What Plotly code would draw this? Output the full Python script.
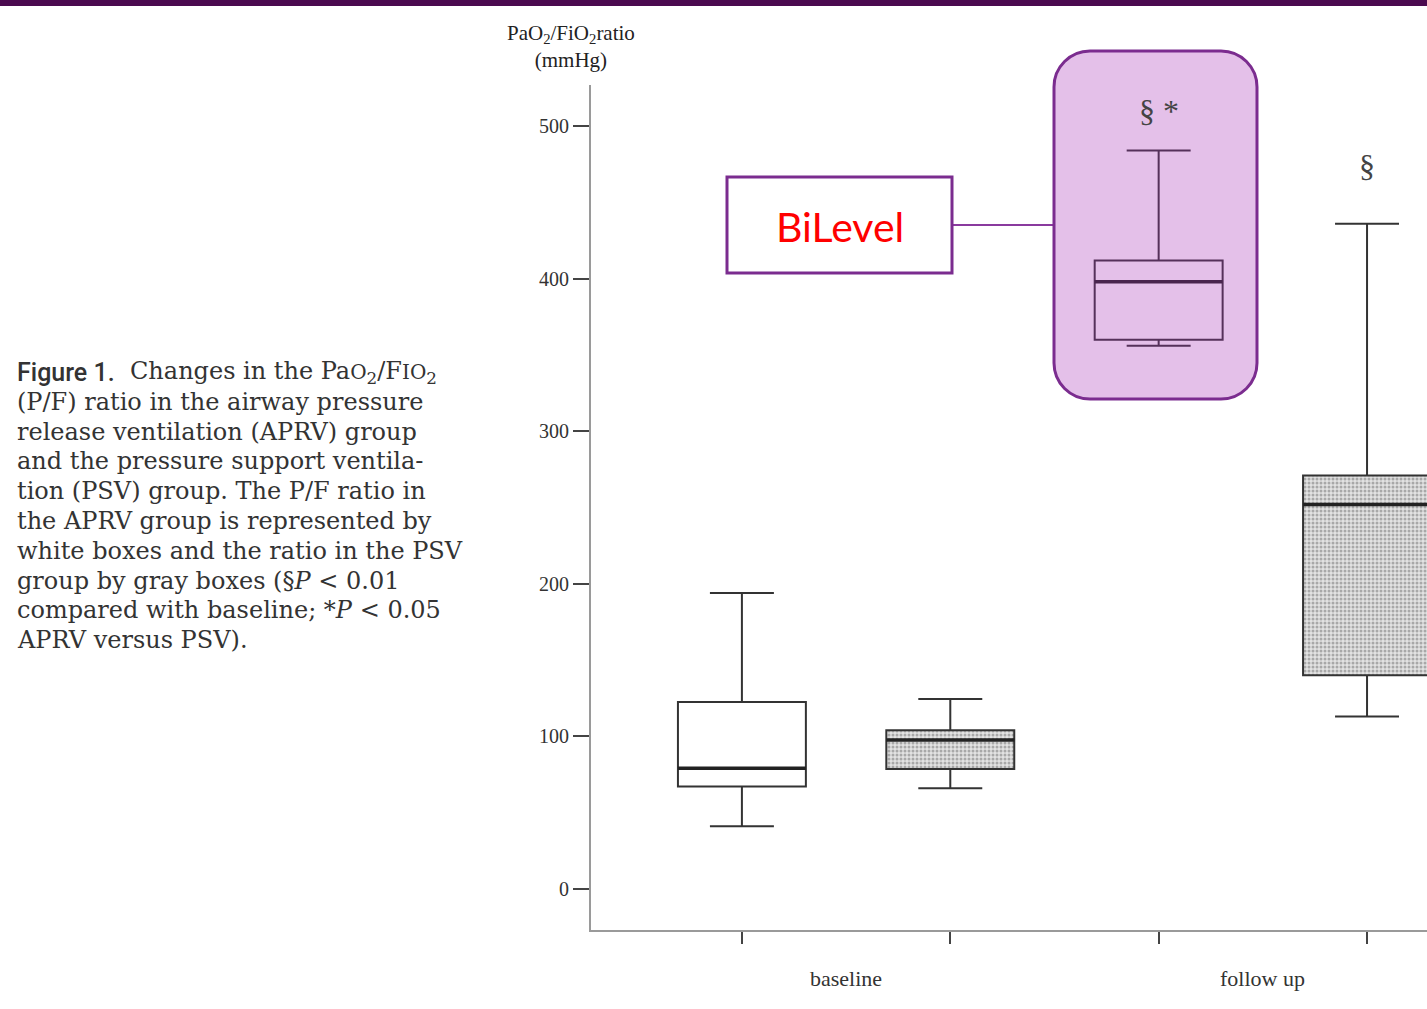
import plotly.graph_objects as go

# ---------------- data ----------------
positions = [1, 2, 3, 4]
groups = ["APRV", "PSV", "APRV", "PSV"]
lower_fence = [41, 66, 356, 113]
q1_vals = [67, 78.6, 360, 140]
medians = [79, 97.6, 398, 252]
q3_vals = [122.5, 104, 412, 271]
upper_fence = [194, 124.5, 484, 436]
y_ticks = [0, 100, 200, 300, 400, 500]
x_labels = ["baseline", "follow up"]
x_label_pos = [1.5, 3.5]
markers = ["§ *", "§"]
marker_pos = [3, 4]
marker_y = [510, 474]

caption_lines = [
    "Changes in the Pa<span style='font-size:20px'>O</span><sub>2</sub>/F<span style='font-size:20px'>IO</span><sub>2</sub>",
    "(P/F) ratio in the airway pressure",
    "release ventilation (APRV) group",
    "and the pressure support ventila-",
    "tion (PSV) group. The P/F ratio in",
    "the APRV group is represented by",
    "white boxes and the ratio in the PSV",
    "group by gray boxes (§<i>P</i> &lt; 0.01",
    "compared with baseline; *<i>P</i> &lt; 0.05",
    "APRV versus PSV).",
]

# ---------------- layout geometry ----------------
W, H = 1427, 1009
PL, PR, PT, PB = 591, 1427, 85, 930
BOXW = 0.614


def px(x):
    return (x - PL) / (PR - PL)


def py(y):
    return (PB - y) / (PB - PT)


LINE = "#333333"
fig = go.Figure()

# patterned fill for PSV boxes
psv_idx = [i for i, g in enumerate(groups) if g == "PSV"]
fig.add_trace(go.Bar(
    x=[positions[i] for i in psv_idx],
    base=[q1_vals[i] for i in psv_idx],
    y=[q3_vals[i] - q1_vals[i] for i in psv_idx],
    width=BOXW,
    marker=dict(color="#dcdcdc", line=dict(width=0),
                pattern=dict(shape=".", fgcolor="#6e6e6e", bgcolor="#e2e2e2",
                             size=4, solidity=0.45)),
    showlegend=False, hoverinfo="skip",
))

for i in range(len(positions)):
    fig.add_trace(go.Box(
        x=[positions[i]],
        q1=[q1_vals[i]], median=[medians[i]], q3=[q3_vals[i]],
        lowerfence=[lower_fence[i]], upperfence=[upper_fence[i]],
        width=BOXW, whiskerwidth=0.5,
        fillcolor="rgba(0,0,0,0)",
        line=dict(color=LINE, width=2),
        showlegend=False, boxpoints=False,
    ))
    fig.add_trace(go.Scatter(
        x=[positions[i] - BOXW / 2, positions[i] + BOXW / 2],
        y=[medians[i], medians[i]], mode="lines",
        line=dict(color="#222222", width=3.5),
        showlegend=False, hoverinfo="skip",
    ))

fig.update_layout(
    width=W, height=H, autosize=False,
    margin=dict(l=PL, r=W - PR, t=PT, b=H - PB, pad=0),
    paper_bgcolor="white", plot_bgcolor="white",
    barmode="overlay", boxmode="overlay",
    showlegend=False,
    xaxis=dict(
        range=[1 - (742 - PL) / 208.5, 4 + (PR - 1367) / 208.5],
        tickvals=positions, showticklabels=False,
        ticks="outside", ticklen=12, tickwidth=2, tickcolor="#444",
        showline=True, linecolor="#9a9a9a", linewidth=2,
        showgrid=False, zeroline=False, fixedrange=True,
    ),
    yaxis=dict(
        range=[-27, 527],
        tickvals=y_ticks, ticktext=[str(v) for v in y_ticks],
        ticks="outside", ticklen=16, tickwidth=2, tickcolor="#444",
        tickfont=dict(family="Liberation Serif", size=20, color="#333"),
        showline=True, linecolor="#9a9a9a", linewidth=2,
        showgrid=False, zeroline=False, fixedrange=True,
    ),
)

# x category labels
for lab, pos in zip(x_labels, x_label_pos):
    fig.add_annotation(x=pos, y=py(978), xref="x", yref="paper", text=lab,
                       showarrow=False, xanchor="center", yanchor="middle",
                       font=dict(family="Liberation Serif", size=22, color="#333"))

# significance markers
for m, pos, yv in zip(markers, marker_pos, marker_y):
    fig.add_annotation(x=pos, y=yv, xref="x", yref="y", text=m,
                       showarrow=False, xanchor="center", yanchor="middle",
                       font=dict(family="Liberation Serif", size=32, color="#444"))

# y axis title
fig.add_annotation(x=px(571), y=py(47), xref="paper", yref="paper",
                   text="PaO<sub>2</sub>/FiO<sub>2</sub>ratio<br>(mmHg)",
                   showarrow=False, xanchor="center", yanchor="middle",
                   font=dict(family="Liberation Serif", size=21, color="#222"))

# caption
fig.add_annotation(x=px(15), y=py(372), xref="paper", yref="paper",
                   text="Figure 1.", showarrow=False, xanchor="left", yanchor="middle",
                   font=dict(family="Roboto", size=25, color="#333", weight=500))
for k, line in enumerate(caption_lines):
    x0 = 128 if k == 0 else 15
    fig.add_annotation(x=px(x0), y=py(372 + k * 29.8), xref="paper", yref="paper",
                       text=line, showarrow=False, xanchor="left", yanchor="middle",
                       font=dict(family="DejaVu Serif", size=24, color="#333"))

# top purple bar
fig.add_shape(type="rect", xref="paper", yref="paper",
              x0=px(0), x1=px(W), y0=py(0), y1=py(6),
              fillcolor="#4b0a4f", line=dict(width=0), layer="above")


def rounded(x0, y0, x1, y1, r):
    k = 0.5523 * r
    pts = [
        ("M", [(x0 + r, y0)]),
        ("L", [(x1 - r, y0)]),
        ("C", [(x1 - r + k, y0), (x1, y0 + r - k), (x1, y0 + r)]),
        ("L", [(x1, y1 - r)]),
        ("C", [(x1, y1 - r + k), (x1 - r + k, y1), (x1 - r, y1)]),
        ("L", [(x0 + r, y1)]),
        ("C", [(x0 + r - k, y1), (x0, y1 - r + k), (x0, y1 - r)]),
        ("L", [(x0, y0 + r)]),
        ("C", [(x0, y0 + r - k), (x0 + r - k, y0), (x0 + r, y0)]),
    ]
    s = ""
    for cmd, ps in pts:
        s += cmd + " " + " ".join(f"{px(a):.5f},{py(b):.5f}" for a, b in ps) + " "
    return s + "Z"


# connector line
fig.add_shape(type="line", xref="paper", yref="paper",
              x0=px(952), x1=px(1054), y0=py(225), y1=py(225),
              line=dict(color="#8a3a9e", width=2), layer="above")

# purple highlight around BiLevel box
fig.add_shape(type="path", xref="paper", yref="paper",
              path=rounded(1054, 51, 1257, 399, 36),
              fillcolor="rgba(165,48,182,0.3)",
              line=dict(color="#7b2c8f", width=3), layer="above")

# BiLevel label box
fig.add_shape(type="rect", xref="paper", yref="paper",
              x0=px(727), x1=px(952), y0=py(177), y1=py(273),
              fillcolor="white", line=dict(color="#7b2c8f", width=3), layer="above")
fig.add_annotation(x=px(840), y=py(226), xref="paper", yref="paper",
                   text="BiLevel", showarrow=False, xanchor="center", yanchor="middle",
                   font=dict(family="Lato", size=41, color="#ff0000"))

fig.write_html("out.html")
